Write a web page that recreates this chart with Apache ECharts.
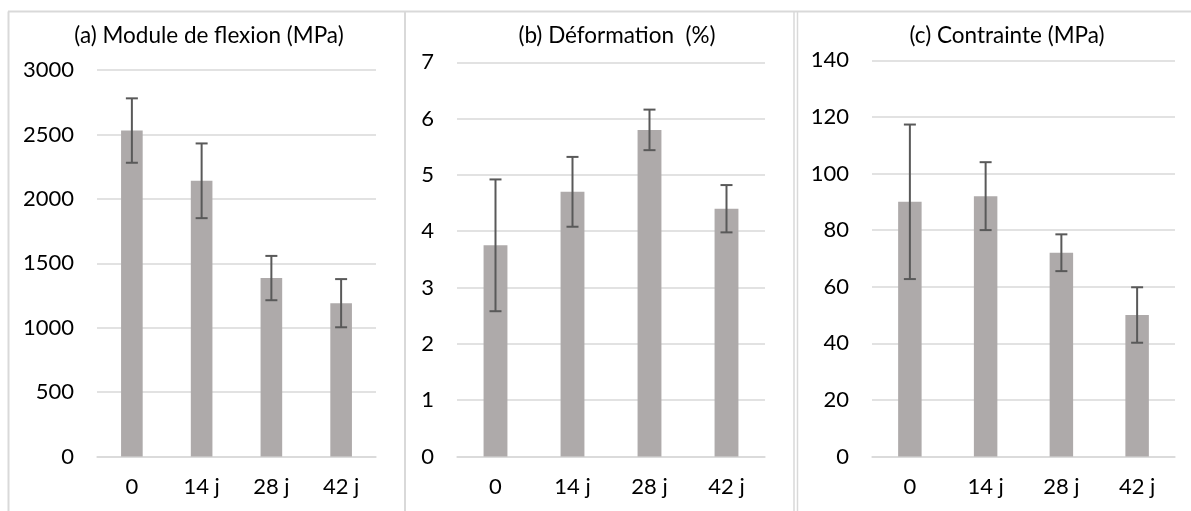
<!DOCTYPE html>
<html><head><meta charset="utf-8">
<script src="https://cdn.jsdelivr.net/npm/echarts@6/dist/echarts.min.js"></script>
<style>html,body{margin:0;padding:0;background:#fff}#c{width:1191px;height:511px}</style>
</head><body><div id="c"></div>
<script>
const categories = ['0', '14 j', '28 j', '42 j'];
const titles = ['(a) Module de flexion (MPa)', '(b) Déformation  (%)', '(c) Contrainte (MPa)'];
const moduleMean = [2530, 2140, 1385, 1190];
const moduleErr = [250, 290, 172, 187];
const deformMean = [3.75, 4.7, 5.8, 4.4];
const deformErr = [1.17, 0.62, 0.36, 0.42];
const stressMean = [90, 92, 72, 50];
const stressErr = [27.3, 12, 6.5, 9.8];
const yMax = [3000, 7, 140];
const yInterval = [500, 1, 20];

const means = [moduleMean, deformMean, stressMean];
const errs = [moduleErr, deformErr, stressErr];

const FONT = 'Lato';
const grids = [
  {left: 97, top: 70, width: 279, height: 386.5},
  {left: 457, top: 62.3, width: 308, height: 394.2},
  {left: 872, top: 60.3, width: 303, height: 396.2}
];
const titlePos = [209, 617, 1007];

const option = {
  animation: false,
  backgroundColor: '#fff',
  textStyle: {fontFamily: FONT},
  title: titles.map((t, i) => ({
    text: t, left: titlePos[i], top: 24, textAlign: 'center', padding: 0,
    textStyle: {fontFamily: FONT, fontSize: 22.5, fontWeight: 'normal', color: '#000'}
  })),
  grid: grids,
  xAxis: grids.map((g, i) => ({
    type: 'category', gridIndex: i, data: categories,
    axisLine: {lineStyle: {color: '#d9d9d9', width: 1.5}},
    axisTick: {show: false},
    axisLabel: {fontFamily: FONT, fontSize: 22, color: '#000', margin: 19}
  })),
  yAxis: grids.map((g, i) => ({
    type: 'value', gridIndex: i, min: 0, max: yMax[i], interval: yInterval[i],
    axisLine: {show: false}, axisTick: {show: false},
    splitLine: {lineStyle: {color: '#d9d9d9', width: 1.5}},
    axisLabel: {fontFamily: FONT, fontSize: 22, color: '#000', margin: 23,
      formatter: function (v) { return String(v); }}
  })),
  series: [],
  graphic: [
    {type: 'line', shape: {x1: 8.5, y1: 11.5, x2: 8.5, y2: 511}, style: {stroke: '#d9d9d9', lineWidth: 2}},
    {type: 'line', shape: {x1: 8, y1: 11.5, x2: 1191, y2: 11.5}, style: {stroke: '#d9d9d9', lineWidth: 2}},
    {type: 'line', shape: {x1: 405, y1: 11.5, x2: 405, y2: 511}, style: {stroke: '#d9d9d9', lineWidth: 2}},
    {type: 'line', shape: {x1: 794, y1: 11.5, x2: 794, y2: 511}, style: {stroke: '#d9d9d9', lineWidth: 1.5}},
    {type: 'line', shape: {x1: 797.5, y1: 11.5, x2: 797.5, y2: 511}, style: {stroke: '#d9d9d9', lineWidth: 1.5}}
  ]
};

for (let i = 0; i < 3; i++) {
  option.series.push({
    type: 'bar', xAxisIndex: i, yAxisIndex: i, data: means[i],
    barWidth: '31%', itemStyle: {color: '#aeaaaa'}, z: 2
  });
  option.series.push({
    type: 'custom', xAxisIndex: i, yAxisIndex: i, z: 3,
    data: means[i].map((m, k) => [k, m - errs[i][k], m + errs[i][k]]),
    renderItem: function (params, api) {
      const lo = api.coord([api.value(0), api.value(1)]);
      const hi = api.coord([api.value(0), api.value(2)]);
      const hw = 6;
      const st = {stroke: '#595959', lineWidth: 2};
      return {type: 'group', children: [
        {type: 'line', shape: {x1: hi[0], y1: hi[1], x2: lo[0], y2: lo[1]}, style: st},
        {type: 'line', shape: {x1: hi[0] - hw, y1: hi[1], x2: hi[0] + hw, y2: hi[1]}, style: st},
        {type: 'line', shape: {x1: lo[0] - hw, y1: lo[1], x2: lo[0] + hw, y2: lo[1]}, style: st}
      ]};
    }
  });
}

const chart = echarts.init(document.getElementById('c'), null, {renderer: 'canvas'});
chart.setOption(option);
</script>
</body></html>
